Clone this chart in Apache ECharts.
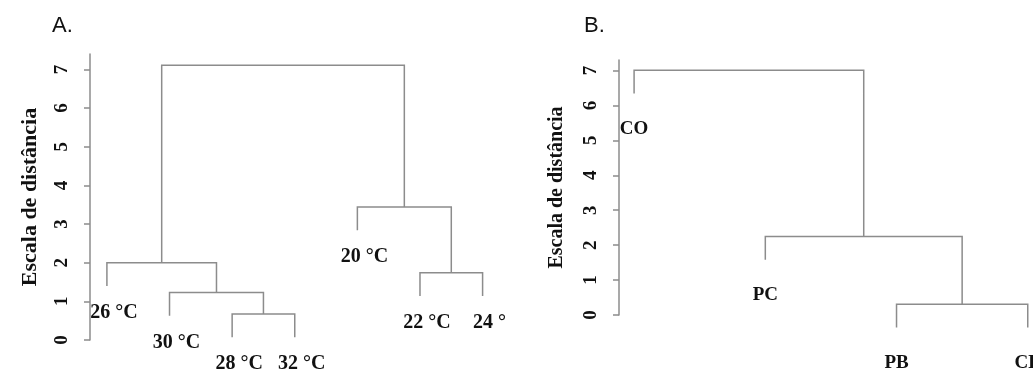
<!DOCTYPE html>
<html>
<head>
<meta charset="utf-8">
<title>Dendrogramas</title>
<script src="https://cdn.jsdelivr.net/npm/echarts@6/dist/echarts.min.js"></script>
</head>
<body style="margin:0;background:#fff">
<div id="main" style="width:1033px;height:372px;"></div>
<script>
// A. temperaturas (folhas na ordem em que aparecem)
var leavesA = ['26 °C', '30 °C', '28 °C', '32 °C', '20 °C', '22 °C', '24 °'];
// merge tipo hclust: negativo = folha, positivo = linha anterior
var mergeA = [[-3, -4], [-2, 1], [-1, 2], [-6, -7], [-5, 4], [3, 5]];
var heightA = [0.67, 1.23, 2.0, 1.74, 3.44, 7.11];
var hangA = 0.6;

// B. locais
var leavesB = ['CO', 'PC', 'PB', 'CE'];
var mergeB = [[-3, -4], [-2, 1], [-1, 2]];
var heightB = [0.31, 2.25, 7.01];
var hangB = 0.67;

var yTicks = [0, 1, 2, 3, 4, 5, 6, 7];

var gray = '#8c8c8c';
var ink = '#111111';
var serif = 'Liberation Serif';

function dendro(merge, height, hang, labels) {
    var nodes = [], segs = [], tips = [];
    function child(c, h) {
        if (c < 0) {
            var y = h - hang;
            tips.push({ name: labels[-c - 1], value: [-c, y] });
            return { x: -c, y: y };
        }
        return nodes[c - 1];
    }
    merge.forEach(function (m, k) {
        var h = height[k];
        var a = child(m[0], h), b = child(m[1], h);
        segs.push({ coords: [[a.x, a.y], [a.x, h], [b.x, h], [b.x, b.y]] });
        nodes.push({ x: (a.x + b.x) / 2, y: h });
    });
    return { segs: segs, tips: tips };
}

var dA = dendro(mergeA, heightA, hangA, leavesA);
var dB = dendro(mergeB, heightB, hangB, leavesB);

function yAxis(gi, max, nameSize, nameGap) {
    return {
        gridIndex: gi,
        type: 'value',
        min: 0,
        max: max,
        interval: 1,
        name: 'Escala de distância',
        nameLocation: 'middle',
        nameRotate: 90,
        nameGap: nameGap,
        nameTextStyle: { fontFamily: serif, fontWeight: 'bold', fontSize: nameSize, color: ink },
        axisLine: { show: true, lineStyle: { color: gray, width: 1.5 } },
        axisTick: { show: true, length: 6, customValues: yTicks, lineStyle: { color: gray, width: 1.5 } },
        axisLabel: {
            customValues: yTicks,
            rotate: 90,
            margin: 18,
            fontFamily: serif, fontWeight: 'bold', fontSize: 19, color: ink
        },
        splitLine: { show: false }
    };
}

function xAxis(gi, min, max) {
    return { gridIndex: gi, type: 'value', min: min, max: max, show: false };
}

function branches(gi, d) {
    return {
        type: 'lines',
        coordinateSystem: 'cartesian2d',
        xAxisIndex: gi, yAxisIndex: gi,
        polyline: true,
        clip: false,
        silent: true,
        lineStyle: { color: gray, width: 1.5, opacity: 1 },
        data: d.segs
    };
}

function tips(gi, d, size, dist, dx) {
    return {
        type: 'scatter',
        xAxisIndex: gi, yAxisIndex: gi,
        symbolSize: 0,
        clip: false,
        silent: true,
        itemStyle: { opacity: 1 },
        label: {
            show: true,
            position: 'bottom',
            distance: dist,
            formatter: '{b}',
            opacity: 1,
            textBorderWidth: 0,
            fontFamily: serif, fontWeight: 'bold', fontSize: size, color: ink
        },
        labelLayout: { hideOverlap: false, dx: dx },
        data: d.tips
    };
}

var myChart = echarts.init(document.getElementById('main'));
myChart.setOption({
    animation: false,
    title: [
        { text: 'A.', left: 47, top: 10, textStyle: { fontFamily: 'Liberation Sans', fontWeight: 'normal', fontSize: 22, color: ink } },
        { text: 'B.', left: 579, top: 10, textStyle: { fontFamily: 'Liberation Sans', fontWeight: 'normal', fontSize: 22, color: ink } }
    ],
    grid: [
        { left: 90, top: 54, width: 407, height: 286 },
        { left: 619, top: 60, width: 414, height: 255 }
    ],
    xAxis: [xAxis(0, 0.73, 7.23), xAxis(1, 0.885, 4.04)],
    yAxis: [yAxis(0, 7.4, 22, 49), yAxis(1, 7.3, 20, 52)],
    series: [
        branches(0, dA),
        tips(0, dA, 20, 17, 7),
        branches(1, dB),
        tips(1, dB, 19, 26, 0)
    ]
});
</script>
</body>
</html>
